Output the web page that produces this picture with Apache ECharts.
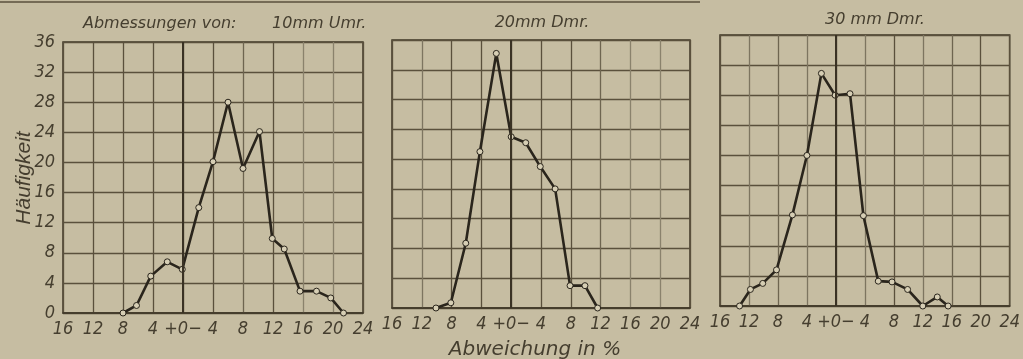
<!DOCTYPE html>
<html><head><meta charset="utf-8">
<script src="https://cdn.jsdelivr.net/npm/echarts@6/dist/echarts.min.js"></script>
<style>html,body{margin:0;padding:0;background:#c6bda2}#c{width:1023px;height:359px}</style>
</head><body><div id="c"></div>
<script>
// Deviation in % (positive = left side "+", negative = right side "−") and frequency
const panel1Dev  = [8, 6.2, 4.3, 2.1, 0.1, -2.1, -4, -6, -8, -10.2, -11.9, -13.5, -15.6, -17.8, -19.7, -21.4];
const panel1Freq = [0, 1, 4.9, 6.8, 5.8, 14, 20.1, 28, 19.2, 24.1, 9.9, 8.5, 2.9, 2.9, 2, 0];
const panel2Dev  = [10.1, 8.1, 6.1, 4.2, 2, 0, -1.95, -3.9, -5.9, -7.9, -9.9, -11.6];
const panel2Freq = [0, 0.7, 8.7, 21, 34.2, 23, 22.2, 19, 16, 3, 3, 0];
const panel3Dev  = [13.3, 11.8, 10.1, 8.2, 6, 4, 2, 0.1, -1.95, -3.8, -5.85, -7.75, -9.9, -12, -14, -15.5];
const panel3Freq = [0, 2.2, 3, 4.8, 12.1, 20, 30.9, 28, 28.2, 12, 3.3, 3.2, 2.2, 0, 1.2, 0];

const panelTitles = ['Abmessungen von:       10mm Umr.', '20mm Dmr.', '30 mm Dmr.'];
// x tick labels from -24 (right) to 16 (left)
const xTickLabels = ['24', '20', '16', '12', '8', '4', '+0\u2212', '4', '8', '12', '16'];
const yTickLabels = ['0', '4', '8', '12', '16', '20', '24', '28', '32', '36'];
const xAxisName = 'Abweichung in %';
const yAxisName = 'Häufigkeit';

const INK = '#2a251c';
const GRID = '#5a503c';
const TXT = '#453e2f';
const FONT_NARROW = "'Liberation Sans Narrow','DejaVu Sans Condensed',sans-serif";
const FONT_W = "'DejaVu Sans','Liberation Sans',sans-serif";
const FONT_T = "'Liberation Sans','DejaVu Sans',sans-serif";

const grids = [
  {left: 63, top: 42, width: 300, height: 271},
  {left: 392, top: 40, width: 298, height: 268},
  {left: 720, top: 35, width: 295, height: 271}
];
const vColors = [
  ['#5a503c','#8a826c','#8a826c','#5a503c','#6e6550','#5a503c','#3a3224','#5a503c','#5a503c','#5a503c','#5a503c'],
  ['#5a503c','#8a826c','#8a826c','#6e6550','#5a503c','#5a503c','#3a3224','#5a503c','#5a503c','#7d7560','#5a503c'],
  ['#5a503c','#5a503c','#6e6550','#7d7560','#5a503c','#7d7560','#3a3224','#7d7560','#6e6550','#7d7560','#5a503c']
];

const data = [[panel1Dev, panel1Freq], [panel2Dev, panel2Freq], [panel3Dev, panel3Freq]];
const titleStyle = {fontFamily: FONT_W, fontStyle: 'italic', fontWeight: 'normal', fontSize: 16, color: TXT};

const option = {
  animation: false,
  backgroundColor: '#c6bda2',
  title: [
    {text: panelTitles[0], left: 83, top: 16, padding: 0, textStyle: titleStyle},
    {text: panelTitles[1], left: 542, top: 15, padding: 0, textAlign: 'center', textStyle: titleStyle},
    {text: panelTitles[2], left: 875, top: 12, padding: 0, textAlign: 'center', textStyle: titleStyle}
  ],
  grid: grids.map(g => Object.assign({show: true, borderColor: '#3f3727', borderWidth: 1.5, backgroundColor: 'transparent'}, g)),
  xAxis: grids.map((g, i) => ({
    type: 'value', gridIndex: i, min: -24, max: 16, interval: 4, inverse: true,
    axisLine: {show: true, lineStyle: {color: '#3f3727', width: 1.5}},
    axisTick: {show: false},
    axisLabel: {
      margin: 7, fontFamily: FONT_NARROW, fontStyle: 'italic', fontSize: 18, color: TXT,
      showMinLabel: true, showMaxLabel: true,
      formatter: v => xTickLabels[Math.round((v + 24) / 4)]
    },
    splitLine: {show: true, lineStyle: {color: vColors[i], width: 1.3}}
  })),
  yAxis: grids.map((g, i) => ({
    type: 'value', gridIndex: i, min: 0, max: 36, interval: 4,
    axisLine: {show: false}, axisTick: {show: false},
    axisLabel: {
      show: i === 0, margin: 8, fontFamily: FONT_NARROW, fontStyle: 'italic', fontSize: 18, color: TXT,
      formatter: v => yTickLabels[Math.round(v / 4)]
    },
    splitLine: {show: true, lineStyle: {color: GRID, width: 1.3}}
  })),
  series: data.map((d, i) => ({
    type: 'line', xAxisIndex: i, yAxisIndex: i,
    data: d[0].map((x, k) => [x, d[1][k]]),
    symbol: 'circle', symbolSize: 6,
    itemStyle: {color: '#d6ceb4', borderColor: INK, borderWidth: 1},
    lineStyle: {color: INK, width: 2.6},
    markLine: {
      silent: true, symbol: ['none', 'none'], label: {show: false},
      lineStyle: {type: 'solid', color: '#3a3224', width: 2},
      data: [{xAxis: 0}]
    }
  })),
  graphic: [
    {type: 'line', shape: {x1: 0, y1: 2, x2: 700, y2: 2}, style: {stroke: '#5a503c', lineWidth: 1.5}},
    {type: 'text', x: 24, y: 178, rotation: Math.PI / 2,
      style: {text: yAxisName, fill: TXT, font: "italic 21px " + FONT_T, align: 'center', verticalAlign: 'middle', textAlign: 'center', textVerticalAlign: 'middle'}},
    {type: 'text', x: 535, y: 350,
      style: {text: xAxisName, fill: TXT, font: "italic 20px " + FONT_W, align: 'center', verticalAlign: 'middle', textAlign: 'center', textVerticalAlign: 'middle'}}
  ]
};
const chart = echarts.init(document.getElementById('c'));
chart.setOption(option);
</script>
</body></html>
